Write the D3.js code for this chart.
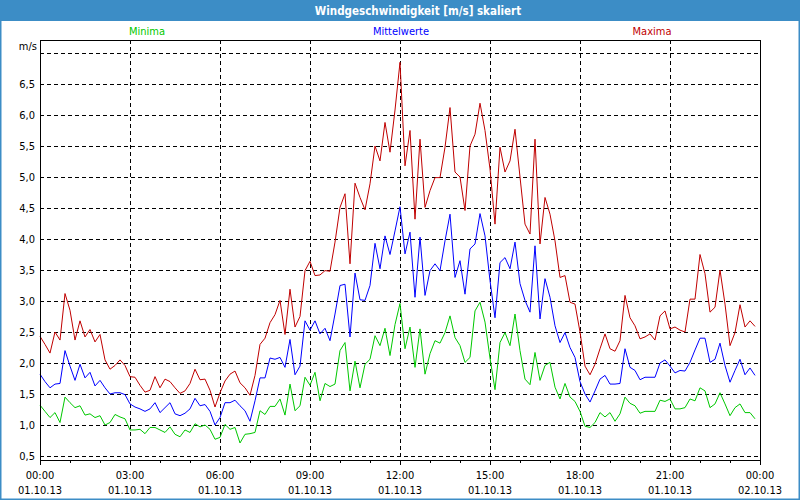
<!DOCTYPE html>
<html><head><meta charset="utf-8">
<script src="https://cdn.jsdelivr.net/npm/d3@7"></script>
<style>
html,body{margin:0;padding:0;background:#fff;}
svg{display:block;}
text{font-family:"DejaVu Sans",Tahoma,sans-serif;font-stretch:condensed;}
</style></head>
<body>
<svg id="chart" width="800" height="500"></svg>
<script>
const title = "Windgeschwindigkeit [m/s] skaliert";
const seriesNames = ["Minima", "Mittelwerte", "Maxima"];
const seriesColors = ["#00c800", "#0000ff", "#c00000"];
const unitLabel = "m/s";
const xTickHours = [0, 3, 6, 9, 12, 15, 18, 21, 24];
const xTickTimes = ["00:00","03:00","06:00","09:00","12:00","15:00","18:00","21:00","00:00"];
const xTickDates = ["01.10.13","01.10.13","01.10.13","01.10.13","01.10.13","01.10.13","01.10.13","01.10.13","02.10.13"];
const yTicks = [0.5,1.0,1.5,2.0,2.5,3.0,3.5,4.0,4.5,5.0,5.5,6.0,6.5,7.0];
const stepMinutes = 10;

const maxima = [2.43,2.3,2.16,2.5,2.37,3.12,2.85,2.37,2.68,2.42,2.54,2.34,2.46,2.05,1.9,1.96,2.05,1.96,
1.78,1.77,1.64,1.53,1.56,1.78,1.6,1.74,1.7,1.6,1.51,1.55,1.67,1.9,1.73,1.74,1.56,1.29,
1.52,1.71,1.82,1.87,1.68,1.6,1.48,1.8,2.3,2.4,2.65,2.78,3.01,2.46,3.19,2.58,2.75,3.49,
3.64,3.41,3.42,3.49,3.48,3.95,4.51,4.73,3.6,4.9,4.67,4.47,4.89,5.5,5.26,5.88,5.4,6.08,
6.85,5.18,5.75,4.32,5.61,4.51,4.78,4.99,4.99,5.48,6.12,5.08,5.0,4.46,5.5,5.69,6.19,5.75,
5.13,4.24,5.48,5.08,5.26,5.77,5.0,4.24,4.08,5.61,3.92,4.67,4.4,3.97,3.38,3.41,2.98,2.95,
2.5,1.95,1.81,1.98,2.23,2.47,2.23,2.19,2.36,3.09,2.73,2.6,2.39,2.42,2.47,2.37,2.76,2.84,
2.55,2.58,2.53,2.5,3.03,3.03,3.75,3.44,2.82,2.9,3.5,2.95,2.28,2.49,2.94,2.58,2.68,2.59];

const mittel = [1.82,1.7,1.6,1.66,1.67,2.2,1.95,1.72,1.98,1.76,1.85,1.63,1.72,1.6,1.5,1.52,1.52,1.49,
1.34,1.29,1.26,1.22,1.26,1.36,1.2,1.28,1.36,1.18,1.15,1.19,1.26,1.43,1.31,1.33,1.22,1.0,
1.12,1.36,1.36,1.4,1.31,1.23,1.06,1.39,1.76,1.76,2.08,2.06,2.09,1.93,2.38,1.81,1.95,2.68,
2.53,2.68,2.47,2.56,2.36,2.79,3.25,3.27,2.42,3.45,3.02,3.01,3.25,3.93,3.52,4.05,3.75,4.13,
4.52,3.76,4.11,3.06,4.03,3.09,3.49,3.6,3.49,3.97,4.4,3.38,3.65,3.11,3.84,3.92,4.41,4.05,
3.33,2.73,3.62,3.7,3.52,3.95,3.28,3.01,2.82,3.89,2.71,3.36,3.06,2.6,2.33,2.49,2.25,2.09,
1.7,1.5,1.37,1.55,1.74,1.8,1.66,1.66,1.67,2.23,1.93,1.88,1.73,1.77,1.77,1.77,2.0,2.05,
1.95,1.84,1.88,1.87,2.01,2.21,2.4,2.4,2.01,2.06,2.32,1.96,1.69,1.88,2.06,1.81,1.92,1.8];

const minima = [1.32,1.22,1.12,1.2,1.04,1.45,1.36,1.28,1.31,1.16,1.18,1.12,1.15,1.0,1.04,1.17,1.13,1.1,
0.92,0.92,0.93,0.86,0.96,0.96,0.92,0.88,0.97,0.85,0.81,0.92,0.88,1.02,0.97,1.0,0.93,0.77,
0.8,1.01,0.93,0.96,0.71,0.85,0.86,0.88,1.23,1.17,1.3,1.3,1.42,1.16,1.66,1.23,1.31,1.77,
1.64,1.85,1.39,1.67,1.62,1.66,2.2,2.33,1.55,2.03,1.6,1.98,2.06,2.44,2.28,2.56,2.12,2.62,
2.96,2.23,2.58,1.93,2.55,1.82,2.15,2.36,2.32,2.49,2.76,2.41,2.28,2.01,2.09,2.84,2.98,2.66,
2.08,1.57,2.33,2.49,2.28,2.79,2.2,1.74,1.65,2.17,1.72,1.96,2.01,1.61,1.42,1.67,1.45,1.38,
1.22,0.98,0.96,1.04,1.2,1.13,1.2,1.06,1.18,1.45,1.35,1.31,1.19,1.22,1.22,1.22,1.4,1.38,
1.42,1.26,1.26,1.28,1.42,1.39,1.6,1.55,1.28,1.34,1.52,1.34,1.15,1.28,1.34,1.2,1.2,1.1];

const svg = d3.select("#chart");
const W = 800, H = 500;
const frameBlue = "#3c8dc6";

// window frame + title bar
svg.append("rect").attr("x",0).attr("y",0).attr("width",W).attr("height",H).attr("fill","#ffffff");
svg.append("rect").attr("x",0).attr("y",0).attr("width",W).attr("height",21).attr("fill",frameBlue);
svg.append("rect").attr("x",0.5).attr("y",0.5).attr("width",W-1).attr("height",H-1)
  .attr("fill","none").attr("stroke",frameBlue).attr("stroke-width",2);
svg.append("text").attr("x",418).attr("y",15).attr("text-anchor","middle")
  .attr("fill","#ffffff").attr("font-weight","bold").attr("font-size","11.5px").text(title);

const pLeft = 40, pRight = 760, pTop = 40, pBottom = 460;
const x = d3.scaleLinear().domain([0,24]).range([pLeft,pRight]);
const y = d3.scaleLinear().domain([0.5,7.0]).range([456,53]);

// grid
const g = svg.append("g").attr("shape-rendering","crispEdges");
g.selectAll(".hg").data(yTicks).enter().append("line")
  .attr("x1",pLeft).attr("x2",pRight).attr("y1",d=>Math.round(y(d))+0.5).attr("y2",d=>Math.round(y(d))+0.5)
  .attr("stroke","#000").attr("stroke-dasharray","4,3");
g.selectAll(".vg").data(xTickHours.slice(1,-1)).enter().append("line")
  .attr("x1",d=>Math.round(x(d))+0.5).attr("x2",d=>Math.round(x(d))+0.5).attr("y1",pTop).attr("y2",pBottom)
  .attr("stroke","#000").attr("stroke-dasharray","4,3");

// lines
const line = d3.line().x((d,i)=>x(i*stepMinutes/60)).y(d=>y(d));
const data = [minima, mittel, maxima];
data.forEach((arr,k)=>{
  svg.append("path").attr("d",line(arr)).attr("fill","none")
    .attr("stroke",seriesColors[k]).attr("stroke-width",1);
});

// frame of plot
svg.append("rect").attr("x",pLeft+0.5).attr("y",pTop+0.5).attr("width",pRight-pLeft).attr("height",pBottom-pTop)
  .attr("fill","none").attr("stroke","#000").attr("stroke-width",1).attr("shape-rendering","crispEdges");

// x axis ticks
const hours = d3.range(0,25);
g.selectAll(".xt").data(hours).enter().append("line")
  .attr("x1",d=>Math.round(x(d))+0.5).attr("x2",d=>Math.round(x(d))+0.5)
  .attr("y1",pBottom).attr("y2",d=> d%3===0 ? pBottom+5 : pBottom+3)
  .attr("stroke","#000");

const fs = "11px";
svg.selectAll(".xl1").data(xTickHours).enter().append("text")
  .attr("x",d=>x(d)).attr("y",479).attr("text-anchor","middle").attr("font-size",fs).attr("fill","#000")
  .text((d,i)=>xTickTimes[i]);
svg.selectAll(".xl2").data(xTickHours).enter().append("text")
  .attr("x",d=>x(d)).attr("y",494).attr("text-anchor","middle").attr("font-size",fs).attr("fill","#000")
  .text((d,i)=>xTickDates[i]);

// y labels
const fmt = d3.format(".1f");
svg.selectAll(".yl").data(yTicks.slice(0,-1)).enter().append("text")
  .attr("x",35).attr("y",d=>y(d)+4).attr("text-anchor","end").attr("font-size",fs).attr("fill","#000")
  .text(d=>fmt(d).replace(".",","));
svg.append("text").attr("x",37).attr("y",50).attr("text-anchor","end").attr("font-size",fs).attr("fill","#000").text(unitLabel);

// legend
const legendX = [147, 401, 652];
seriesNames.forEach((n,k)=>{
  svg.append("text").attr("x",legendX[k]).attr("y",35).attr("text-anchor","middle")
    .attr("font-size",fs).attr("fill",seriesColors[k]).text(n);
});
</script>
</body></html>
